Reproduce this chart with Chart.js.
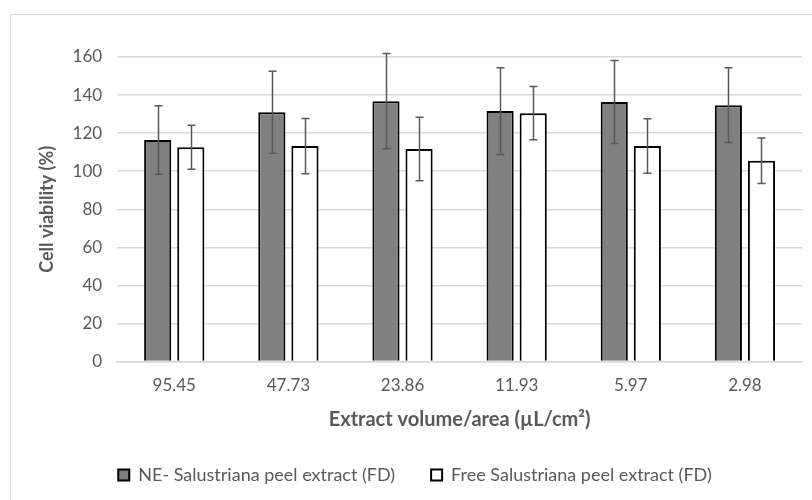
<!DOCTYPE html>
<html>
<head>
<meta charset="utf-8">
<script src="https://cdn.jsdelivr.net/npm/chart.js@4"></script>
<style>
	body { margin: 0; background: #fff; }
	canvas { display: block; }
</style>
</head>
<body>
<canvas id="chart" width="812" height="500"></canvas>
<script>
var categories = ["95.45", "47.73", "23.86", "11.93", "5.97", "2.98"];
var neValues = [116.4, 131, 136.8, 131.6, 136.3, 134.7];
var neErrors = [18, 21.5, 25, 22.8, 21.8, 19.6];
var freeValues = [112.6, 113.2, 111.7, 130.5, 113.2, 105.5];
var freeErrors = [11.5, 14.5, 16.7, 14, 14.3, 12];
var yTicks = [0, 20, 40, 60, 80, 100, 120, 140, 160];

var textGrey = "#595959";
var fontName = "Lato, 'Open Sans', sans-serif";

// frame round the picture, like the exported office chart
var framePlugin = {
	id: "frame",
	beforeDraw: function (chart) {
		var ctx = chart.ctx;
		ctx.save();
		ctx.strokeStyle = "#d9d9d9";
		ctx.lineWidth = 1;
		ctx.strokeRect(10.5, 14.5, 1000, 1000);
		ctx.restore();
	}
};

// error bars drawn from the y scale
var errorBarPlugin = {
	id: "errorBars",
	afterDatasetsDraw: function (chart) {
		var ctx = chart.ctx;
		var yScale = chart.scales.y;
		ctx.save();
		ctx.strokeStyle = "#595959";
		ctx.lineWidth = 1.5;
		chart.data.datasets.forEach(function (ds, i) {
			var meta = chart.getDatasetMeta(i);
			meta.data.forEach(function (bar, j) {
				var v = ds.data[j];
				var e = ds.errors[j];
				var top = yScale.getPixelForValue(v + e);
				var bottom = yScale.getPixelForValue(v - e);
				var x = Math.round(bar.x) + 0.5;
				ctx.beginPath();
				ctx.moveTo(x, top);
				ctx.lineTo(x, bottom);
				ctx.moveTo(x - 4, top);
				ctx.lineTo(x + 4, top);
				ctx.moveTo(x - 4, bottom);
				ctx.lineTo(x + 4, bottom);
				ctx.stroke();
			});
		});
		ctx.restore();
	}
};

var ctx = document.getElementById("chart").getContext("2d");
new Chart(ctx, {
	type: "bar",
	data: {
		labels: categories,
		datasets: [
			{
				label: "NE- Salustriana peel extract (FD)",
				data: neValues,
				errors: neErrors,
				backgroundColor: "#808080",
				borderColor: "#000000",
				borderWidth: 2,
				categoryPercentage: 0.58,
				barPercentage: 0.82
			},
			{
				label: "Free Salustriana peel extract (FD)",
				data: freeValues,
				errors: freeErrors,
				backgroundColor: "#ffffff",
				borderColor: "#000000",
				borderWidth: 2,
				categoryPercentage: 0.58,
				barPercentage: 0.82
			}
		]
	},
	options: {
		responsive: false,
		animation: false,
		layout: { padding: { top: 57, right: 10, bottom: 6, left: 28 } },
		plugins: {
			tooltip: { enabled: false },
			legend: {
				position: "bottom",
				labels: {
					color: textGrey,
					font: { family: fontName, size: 18 },
					boxWidth: 11,
					boxHeight: 11,
					padding: 36,
					useBorderRadius: false
				}
			}
		},
		scales: {
			x: {
				grid: { display: false, drawTicks: false },
				border: { color: "#d9d9d9", width: 1.5 },
				ticks: { color: textGrey, font: { family: fontName, size: 17 }, padding: 14 },
				title: {
					display: true,
					text: "Extract volume/area (µL/cm²)",
					color: textGrey,
					font: { family: fontName, size: 20, weight: "bold", lineHeight: 1 },
					padding: { top: 0, bottom: 0 }
				}
			},
			y: {
				min: 0,
				max: 160,
				afterBuildTicks: function (axis) {
					axis.ticks = yTicks.map(function (v) { return { value: v }; });
				},
				grid: { color: "#d9d9d9", lineWidth: 1.5, drawTicks: false },
				border: { display: false },
				ticks: { color: textGrey, font: { family: fontName, size: 17 }, padding: 15 },
				title: {
					display: true,
					text: "Cell viability (%)",
					color: textGrey,
					font: { family: fontName, size: 18, weight: "bold" },
					padding: { top: 8, bottom: 0 }
				}
			}
		}
	},
	plugins: [framePlugin, errorBarPlugin]
});
</script>
</body>
</html>
